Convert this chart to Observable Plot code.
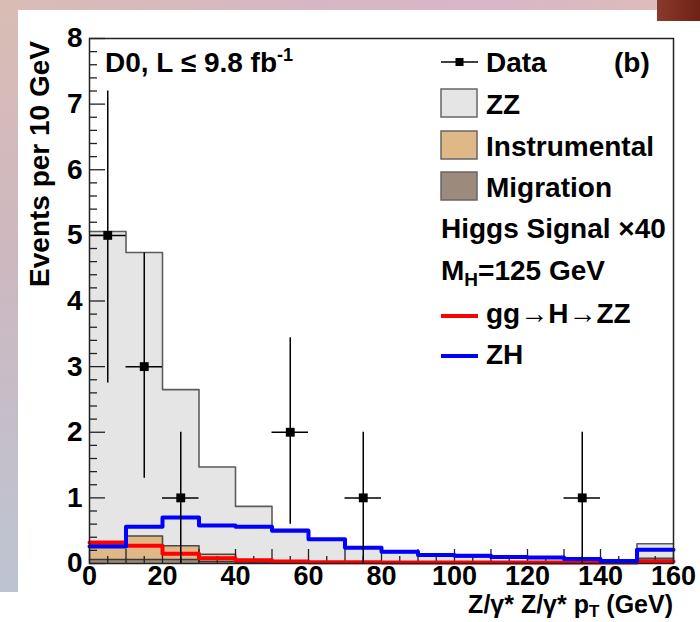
<!DOCTYPE html>
<html><head><meta charset="utf-8">
<script src="https://cdn.jsdelivr.net/npm/d3@7"></script>
<script src="https://cdn.jsdelivr.net/npm/@observablehq/plot@0.6"></script>
<style>
html,body{margin:0;padding:0;background:#fff;}
#wrap{position:relative;width:700px;height:622px;overflow:hidden;background:#fff;}
#topband{position:absolute;left:0;top:0;width:700px;height:10px;background:linear-gradient(90deg,#d9bdb5 0%,#d6b6c4 45%,#d9b6c8 70%,#dcbcbc 93%);}
#corner{position:absolute;left:657px;top:0;width:43px;height:21px;background:linear-gradient(90deg,#8a3a2a,#6e2215);}
#leftband{position:absolute;left:0;top:0;width:18px;height:592px;background:linear-gradient(180deg,#d9bdb5 0%,#cdb8c0 45%,#bcc4d2 100%);}
#chart{position:absolute;left:0;top:0;}
</style></head>
<body><div id="wrap"><div id="topband"></div><div id="corner"></div><div id="leftband"></div><div id="chart"></div></div>
<script>
// ---- data ----
const binLow = [0,10,20,30,40,50,60,70,80,90,100,110,120,130,140,150];
const binWidth = 10;
const zzBkg          = [4.78,4.32,2.38,1.33,0.84,0.50,0.35,0.24,0.16,0.11,0.09,0.08,0.07,0.05,0.03,0.22];
const instrumentalBkg= [0.22,0.36,0.21,0.11,0.02,0.01,0.005,0.005,0.005,0.005,0.005,0.005,0.005,0.005,0.005,0.03];
const migrationBkg   = [0.06,0.06,0.06,0.03,0.01,0.01,0.005,0.005,0.005,0.005,0.005,0.005,0.005,0.005,0.005,0.05];
const ggHSignal      = [0.32,0.27,0.15,0.08,0.05,0.03,0.02,0.02,0.015,0.015,0.015,0.015,0.015,0.015,0.015,0.03];
const zhSignal       = [0.26,0.56,0.70,0.58,0.56,0.50,0.37,0.24,0.18,0.13,0.12,0.10,0.09,0.07,0.04,0.21];
const dataX    = [5,15,25,55,75,135];
const dataY    = [5,3,1,2,1,1];
const dataLow  = [2.75,1.3,0,0.6,0,0];
const dataHigh = [7.2,4.73,2.0,3.44,2.0,2.0];
const yTickLabels = [0,1,2,3,4,5,6,7,8];
const xTickLabels = [0,20,40,60,80,100,120,140,160];

// ---- derived tables ----
const FONT = '"Liberation Sans", Arial, Helvetica, sans-serif';
const W = 700, H = 622, mL = 89, mR = 27, mT = 38, mB = 59;
const plotW = W - mL - mR, plotH = H - mT - mB;

const migTop  = migrationBkg.map(v => v);
const instTop = migTop.map((v,i) => v + instrumentalBkg[i]);
const zzTop   = instTop.map((v,i) => v + zzBkg[i]);

function steps(lower, upper) {
  const pts = [];
  binLow.forEach((lo, i) => {
    const b = lower ? lower[i] : 0;
    pts.push({x: lo, y1: b, y2: upper[i]});
    pts.push({x: lo + binWidth, y1: b, y2: upper[i]});
  });
  return pts;
}
const zzPts = steps(instTop, zzTop);
const instPts = steps(migTop, instTop);
const migPts = steps(null, migTop);
const ggPts = steps(null, ggHSignal);
const zhPts = steps(null, zhSignal);
const data = dataX.map((x,i) => ({x, y: dataY[i], lo: dataLow[i], hi: dataHigh[i], xl: x - binWidth/2, xh: x + binWidth/2}));

const yMajor = yTickLabels;
const yMinor = d3.range(0, 8.0001, 0.2).filter(v => Math.abs(v - Math.round(v)) > 1e-6);
const xMajor = d3.range(0, 160.001, 10);
const xMinor = d3.range(5, 160, 10);

const tickColor = "#222";
const plot = Plot.plot({
  width: W, height: H,
  marginLeft: mL, marginRight: mR, marginTop: mT, marginBottom: mB,
  style: {fontFamily: FONT, fontSize: "28px", fontWeight: "bold", background: "transparent", color: "#000"},
  x: {domain: [0,160], label: null},
  y: {domain: [0,8], label: null},
  marks: [
    Plot.areaY(zzPts, {x: "x", y1: "y1", y2: "y2", fill: "#e5e5e5"}),
    Plot.areaY(instPts, {x: "x", y1: "y1", y2: "y2", fill: "#deb887"}),
    Plot.areaY(migPts, {x: "x", y1: "y1", y2: "y2", fill: "#9c8b7c"}),
    Plot.line(zzPts, {x: "x", y: "y2", stroke: "#5c5c5c", strokeWidth: 1.6}),
    Plot.line(instPts, {x: "x", y: "y2", stroke: "#4a4a4a", strokeWidth: 1.6}),
    Plot.line(migPts, {x: "x", y: "y2", stroke: "#3a3a3a", strokeWidth: 1.6}),
    Plot.tickY(yMajor, {y: d => d, stroke: tickColor, strokeWidth: 1.3, insetRight: plotW - 16}),
    Plot.tickY(yMinor, {y: d => d, stroke: tickColor, strokeWidth: 1.3, insetRight: plotW - 8}),
    Plot.tickX(xMajor, {x: d => d, stroke: tickColor, strokeWidth: 1.3, insetTop: plotH - 14}),
    Plot.tickX(xMinor, {x: d => d, stroke: tickColor, strokeWidth: 1.3, insetTop: plotH - 7}),
    Plot.line(ggPts, {x: "x", y: "y2", stroke: "#ff0000", strokeWidth: 4}),
    Plot.line(zhPts, {x: "x", y: "y2", stroke: "#0000ff", strokeWidth: 4}),
    Plot.ruleX(data, {x: "x", y1: "lo", y2: "hi", stroke: "#000", strokeWidth: 1.5}),
    Plot.ruleY(data, {y: "y", x1: "xl", x2: "xh", stroke: "#000", strokeWidth: 1.5}),
    Plot.dot(data, {x: "x", y: "y", symbol: "square", r: 5, fill: "#000", stroke: null}),
    Plot.axisY({ticks: yTickLabels, tickSize: 0, tickPadding: 7, label: null, tickFormat: d => String(d)}),
    Plot.axisX({ticks: xTickLabels, tickSize: 0, tickPadding: 2, label: null, fontSize: 27, tickFormat: d => String(d)}),
    Plot.frame({stroke: "#222", strokeWidth: 1.5})
  ]
});
document.getElementById("chart").appendChild(plot);

// ---- titles, annotations and legend ----
const svg = d3.select(plot);
const g = svg.append("g")
  .attr("font-family", FONT).attr("font-weight", "bold").attr("font-size", 28)
  .attr("fill", "#000").attr("text-anchor", "start");

g.append("text").attr("transform", "translate(49,41) rotate(-90)")
  .attr("text-anchor", "end").text("Events per 10 GeV");

const xt = g.append("text").attr("x", 673).attr("y", 613).attr("text-anchor", "end").attr("font-size", 25);
xt.append("tspan").text("Z/γ* Z/γ* p");
xt.append("tspan").attr("font-size", 17).attr("dy", 4).text("T");
xt.append("tspan").attr("dy", -4).text(" (GeV)");

const d0 = g.append("text").attr("x", 105).attr("y", 72);
d0.append("tspan").text("D0, L ≤ 9.8 fb");
d0.append("tspan").attr("font-size", 18).attr("dy", -11).text("-1");
g.append("text").attr("x", 614).attr("y", 72).text("(b)");

// legend
const lx = 441, tx = 486;
g.append("line").attr("x1", lx).attr("x2", lx + 37).attr("y1", 62).attr("y2", 62).attr("stroke", "#000").attr("stroke-width", 1.5);
g.append("rect").attr("x", lx + 14.5).attr("y", 58).attr("width", 8).attr("height", 8).attr("fill", "#000");
g.append("text").attr("x", tx).attr("y", 72).text("Data");

const boxes = [
  {label: "ZZ", fill: "#e5e5e5", y: 89},
  {label: "Instrumental", fill: "#deb887", y: 131},
  {label: "Migration", fill: "#9c8b7c", y: 172}
];
boxes.forEach(b => {
  g.append("rect").attr("x", lx).attr("y", b.y).attr("width", 36).attr("height", 28)
    .attr("fill", b.fill).attr("stroke", "#666").attr("stroke-width", 1.5);
  g.append("text").attr("x", tx).attr("y", b.y + 25).text(b.label);
});
g.append("text").attr("x", lx).attr("y", 238).text("Higgs Signal ×40");
const mh = g.append("text").attr("x", lx).attr("y", 280);
mh.append("tspan").text("M");
mh.append("tspan").attr("font-size", 19).attr("dy", 6).text("H");
mh.append("tspan").attr("dy", -6).text("=125 GeV");
g.append("line").attr("x1", lx).attr("x2", lx + 37).attr("y1", 316).attr("y2", 316).attr("stroke", "#ff0000").attr("stroke-width", 4);
g.append("text").attr("x", tx).attr("y", 323).text("gg→H→ZZ");
g.append("line").attr("x1", lx).attr("x2", lx + 37).attr("y1", 356).attr("y2", 356).attr("stroke", "#0000ff").attr("stroke-width", 4);
g.append("text").attr("x", tx).attr("y", 364).text("ZH");
</script>
</body></html>
